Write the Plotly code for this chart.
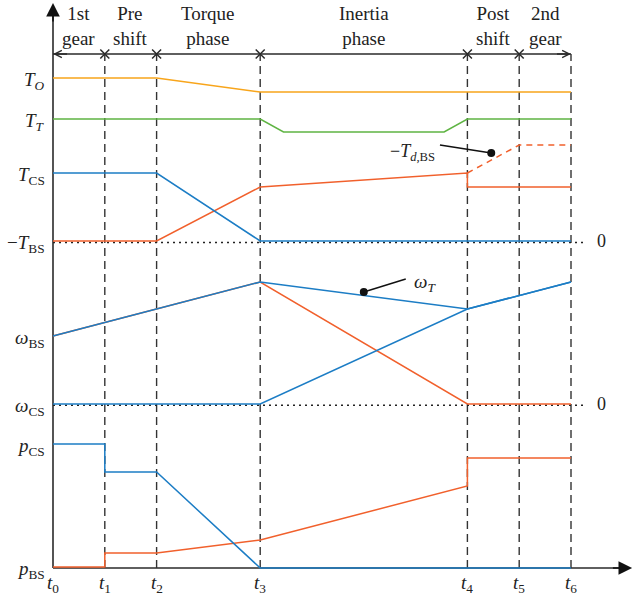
import plotly.graph_objects as go

# ---------------- data ----------------
t_ticks = [0, 1, 2, 4, 8, 9, 10]
tick_labels = ["<i>t</i><sub>0</sub>", "<i>t</i><sub>1</sub>", "<i>t</i><sub>2</sub>",
               "<i>t</i><sub>3</sub>", "<i>t</i><sub>4</sub>", "<i>t</i><sub>5</sub>",
               "<i>t</i><sub>6</sub>"]
phase_labels = ["1st<br>gear", "Pre<br>shift", "Torque<br>phase", "Inertia<br>phase",
                "Post<br>shift", "2nd<br>gear"]

# torque section
T_O_t = [0, 2, 4, 10]
T_O_v = [49.0, 49.0, 47.6, 47.6]
T_T_t = [0, 4, 4.45, 7.55, 8, 10]
T_T_v = [44.9, 44.9, 43.6, 43.6, 44.9, 44.9]
T_CS_t = [0, 2, 4, 10]
T_CS_v = [39.5, 39.5, 32.7, 32.7]
T_BS_t = [0, 2, 4, 8, 8, 10]
T_BS_v = [32.7, 32.7, 38.1, 39.5, 38.1, 38.1]
T_dBS_t = [8, 9, 10]
T_dBS_v = [39.5, 42.3, 42.3]
T_zero = 32.7

# speed section
w_T_t = [0, 4, 8, 10]
w_T_v = [23.2, 28.6, 25.9, 28.6]
w_BS_t = [0, 4, 8, 10]
w_BS_v = [23.2, 28.6, 16.4, 16.4]
w_CS_t = [0, 4, 8, 10]
w_CS_v = [16.4, 16.4, 25.9, 28.6]
w_zero = 16.4

# pressure section
p_CS_t = [0, 1, 1, 2, 4, 10]
p_CS_v = [12.4, 12.4, 9.6, 9.6, 0.0, 0.0]
p_BS_t = [0, 1, 1, 2, 4, 8, 8, 10]
p_BS_v = [0.1, 0.1, 1.5, 1.5, 2.8, 8.2, 11.0, 11.0]

left_labels = [
    ("<i>T</i><sub><i>O</i></sub>", 49.0),
    ("<i>T</i><sub><i>T</i></sub>", 44.9),
    ("<i>T</i><sub>CS</sub>", 39.5),
    ("\u2212<i>T</i><sub>BS</sub>", 32.7),
    ("<i>\u03c9</i><sub>BS</sub>", 23.2),
    ("<i>\u03c9</i><sub>CS</sub>", 16.4),
    ("<i>p</i><sub>CS</sub>", 12.4),
    ("<i>p</i><sub>BS</sub>", 0.1),
]

# ---------------- styling ----------------
YEL = "#F8A51B"
GRN = "#5FB443"
BLU = "#1C7DC5"
RED = "#F1602C"
AX = "#2a2a2a"
FONT = "Liberation Serif"
LW = 1.5

header_v = 51.4
x_end = 11.18
y_top = 56.5
zero_end = 10.27

fig = go.Figure()

def line(x, y, color, width=LW, dash=None):
    fig.add_trace(go.Scatter(x=x, y=y, mode="lines",
                             line=dict(color=color, width=width, dash=dash),
                             hoverinfo="skip", showlegend=False))

# axis lines
line([0, 0], [0, y_top - 1], AX, 1.6)
line([0, x_end - 0.2], [0, 0], AX, 1.6)
# header line
line([0, 10], [header_v, header_v], AX, 1.3)
# vertical dashed lines
for t in t_ticks[1:]:
    line([t, t], [0, header_v], "#333333", 1.4, "8px,5px")
# zero dotted lines
line([0, zero_end], [T_zero - 0.15, T_zero - 0.15], "#222222", 1.6, "2px,4px")
line([0, zero_end], [w_zero - 0.12, w_zero - 0.12], "#222222", 1.6, "2px,4px")

# torque curves
line(T_O_t, T_O_v, YEL)
line(T_T_t, T_T_v, GRN)
line(T_BS_t, T_BS_v, RED)
line(T_dBS_t, T_dBS_v, RED, LW, "6px,5px")
line(T_CS_t, T_CS_v, BLU)
# speed curves
line(w_BS_t, w_BS_v, RED)
line(w_T_t, w_T_v, BLU)
line(w_CS_t, w_CS_v, BLU)
# pressure curves
line(p_BS_t, p_BS_v, RED)
line(p_CS_t, p_CS_v, BLU)

# header x markers
fig.add_trace(go.Scatter(x=t_ticks[1:6], y=[header_v] * 5, mode="markers",
                         marker=dict(symbol="x-thin", size=9,
                                     line=dict(color=AX, width=1.5)),
                         hoverinfo="skip", showlegend=False))

# annotation dots
fig.add_trace(go.Scatter(x=[8.46, 6.0], y=[41.5, 27.6], mode="markers",
                         marker=dict(color="#111111", size=8),
                         hoverinfo="skip", showlegend=False))
line([7.47, 8.46], [42.3, 41.5], "#111111", 1.4)
line([6.0, 6.81], [27.6, 28.9], "#111111", 1.4)

annotations = []
# axis arrow heads
annotations.append(dict(x=0, y=y_top, ax=0, ay=y_top - 2, xref="x", yref="y",
                        axref="x", ayref="y", text="", showarrow=True,
                        arrowhead=2, arrowsize=1.7, arrowwidth=1.6, arrowcolor="#111"))
annotations.append(dict(x=x_end, y=0, ax=x_end - 0.4, ay=0, xref="x", yref="y",
                        axref="x", ayref="y", text="", showarrow=True,
                        arrowhead=2, arrowsize=1.7, arrowwidth=1.6, arrowcolor="#111"))
# header chevrons
annotations.append(dict(x=0, y=header_v, ax=0.3, ay=header_v, xref="x", yref="y",
                        axref="x", ayref="y", text="", showarrow=True,
                        arrowhead=5, arrowsize=1.1, arrowwidth=1.3, arrowcolor=AX))
annotations.append(dict(x=10, y=header_v, ax=9.7, ay=header_v, xref="x", yref="y",
                        axref="x", ayref="y", text="", showarrow=True,
                        arrowhead=5, arrowsize=1.1, arrowwidth=1.3, arrowcolor=AX))

# phase labels
for i, lab in enumerate(phase_labels):
    xm = (t_ticks[i] + t_ticks[i + 1]) / 2
    annotations.append(dict(x=xm, y=54.2, xref="x", yref="y", text=lab,
                            showarrow=False, xanchor="center", yanchor="middle",
                            font=dict(family=FONT, size=19, color="#222")))
# time labels
for t, lab in zip(t_ticks, tick_labels):
    annotations.append(dict(x=t, y=-1.6, xref="x", yref="y", text=lab,
                            showarrow=False, xanchor="center", yanchor="middle",
                            font=dict(family=FONT, size=19, color="#222")))
# left labels
for lab, v in left_labels:
    annotations.append(dict(x=-0.12, y=v, xref="x", yref="y", text=lab,
                            showarrow=False, xanchor="right", yanchor="middle",
                            yshift=-3, font=dict(family=FONT, size=19, color="#222")))
# zero labels
for v in [T_zero, w_zero]:
    annotations.append(dict(x=10.58, y=v, xref="x", yref="y", text="0",
                            showarrow=False, xanchor="center", yanchor="middle",
                            font=dict(family=FONT, size=18, color="#222")))
# callout labels
annotations.append(dict(x=7.42, y=41.6, xref="x", yref="y",
                        text="\u2212<i>T</i><sub><i>d</i>,BS</sub>",
                        showarrow=False, xanchor="right", yanchor="middle",
                        font=dict(family=FONT, size=18, color="#222")))
annotations.append(dict(x=6.93, y=28.5, xref="x", yref="y",
                        text="<i>\u03c9</i><sub><i>T</i></sub>",
                        showarrow=False, xanchor="left", yanchor="middle",
                        font=dict(family=FONT, size=19, color="#222")))

fig.update_layout(
    width=638, height=599, autosize=False,
    margin=dict(l=0, r=0, t=0, b=0, pad=0),
    paper_bgcolor="white", plot_bgcolor="white",
    xaxis=dict(range=[-53 / 51.8, (638 - 53) / 51.8], visible=False, fixedrange=True),
    yaxis=dict(range=[-3.1, 56.8], visible=False, fixedrange=True),
    annotations=annotations,
    showlegend=False,
)

fig.write_html("out.html",
               config={"displayModeBar": False, "staticPlot": True},
               post_script="document.body.style.margin='0';document.body.style.overflow='hidden';")
